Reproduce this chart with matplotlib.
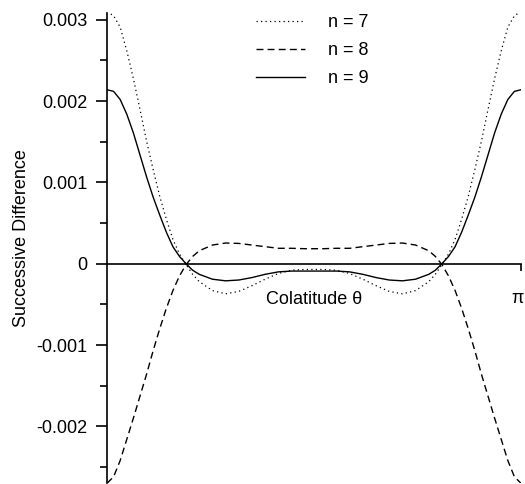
import numpy as np
import matplotlib
matplotlib.use("Agg")
import matplotlib.pyplot as plt
from matplotlib.ticker import FixedLocator
from matplotlib.transforms import ScaledTranslation

plt.rcParams['font.family'] = ['Liberation Sans', 'DejaVu Sans']

# Colatitude (radians)
theta = [0.0, 0.05, 0.1, 0.15, 0.2, 0.25, 0.3, 0.35, 0.4, 0.45, 0.5, 0.55, 0.6,
         0.65, 0.7, 0.8, 0.9, 1.0, 1.1, 1.2, 1.3, 1.4, 1.5, 1.5708,
         1.6416, 1.7416, 1.8416, 1.9416, 2.0416, 2.1416, 2.2416, 2.3416, 2.4416,
         2.4916, 2.5416, 2.5916, 2.6416, 2.6916, 2.7416, 2.7916, 2.8416, 2.8916,
         2.9416, 2.9916, 3.0416, 3.0916, 3.1416]

n7 = [0.00310, 0.00305, 0.00291, 0.00262, 0.00228, 0.00190, 0.00151, 0.00116,
      0.00083, 0.00055, 0.00030, 0.00012, -0.00001, -0.00013, -0.00022, -0.00033,
      -0.00037, -0.00034, -0.00027, -0.00019, -0.00012, -0.00008, -0.00007, -0.00007,
      -0.00007, -0.00008, -0.00012, -0.00019, -0.00027, -0.00034, -0.00037, -0.00033,
      -0.00022, -0.00013, -0.00001, 0.00012, 0.00030, 0.00055, 0.00083, 0.00116,
      0.00151, 0.00190, 0.00228, 0.00262, 0.00291, 0.00305, 0.00310]

n8 = [-0.00270, -0.00262, -0.00242, -0.00216, -0.00190, -0.00163, -0.00136, -0.00107,
      -0.00080, -0.00055, -0.00033, -0.00015, -0.00001, 0.00009, 0.00016, 0.00023,
      0.000255, 0.00025, 0.00023, 0.00021, 0.00019, 0.00019, 0.000185, 0.000185,
      0.000185, 0.00019, 0.00019, 0.00021, 0.00023, 0.00025, 0.000255, 0.00023,
      0.00016, 0.00009, -0.00001, -0.00015, -0.00033, -0.00055, -0.00080, -0.00107,
      -0.00136, -0.00163, -0.00190, -0.00216, -0.00242, -0.00262, -0.00270]

n9 = [0.00214, 0.00212, 0.00202, 0.00184, 0.00161, 0.00134, 0.00107, 0.00082,
      0.00060, 0.00039, 0.00021, 0.00009, 0.00000, -0.00008, -0.00013, -0.00019,
      -0.00021, -0.00020, -0.00017, -0.00013, -0.00010, -0.00009, -0.00009, -0.00009,
      -0.00009, -0.00009, -0.00010, -0.00013, -0.00017, -0.00020, -0.00021, -0.00019,
      -0.00013, -0.00008, 0.00000, 0.00009, 0.00021, 0.00039, 0.00060, 0.00082,
      0.00107, 0.00134, 0.00161, 0.00184, 0.00202, 0.00212, 0.00214]

labels = ['n = 7', 'n = 8', 'n = 9']
ytick_vals = [-0.002, -0.001, 0.0, 0.001, 0.002, 0.003]
ytick_labels = ['-0.002', '-0.001', '0', '0.001', '0.002', '0.003']
yminor_vals = [-0.0025, -0.0015, -0.0005, 0.0005, 0.0015, 0.0025]

fig = plt.figure(figsize=(5.25, 4.84), dpi=100)
ax = fig.add_axes([107/525, 1 - 483.3/484, 414/525, 470/484])

ax.plot(theta, n7, color='black', lw=0.9, linestyle=(0, (1, 2.6)), label=labels[0])
ax.plot(theta, n8, color='black', lw=1.0, linestyle=(0, (5, 3)), label=labels[1])
ax.plot(theta, n9, color='black', lw=1.0, linestyle='-', label=labels[2])

ax.set_xlim(0, np.pi)
ax.set_ylim(-0.0027, 0.00308)

for s in ['top', 'right']:
    ax.spines[s].set_visible(False)
ax.spines['bottom'].set_position(('data', 0))
ax.spines['bottom'].set_linewidth(1.2)
ax.spines['left'].set_linewidth(1.2)

ax.set_xticks([np.pi])
ax.set_xticklabels(['π'])
ax.tick_params(axis='x', direction='out', length=5, width=1.2, labelsize=13, pad=14)
for lab in ax.get_xticklabels():
    lab.set_transform(lab.get_transform() + ScaledTranslation(-3/100, 0, fig.dpi_scale_trans))

ax.yaxis.set_major_locator(FixedLocator(ytick_vals))
ax.set_yticklabels(ytick_labels)
ax.yaxis.set_minor_locator(FixedLocator(yminor_vals))
ax.tick_params(axis='y', which='major', direction='out', length=8, width=1.2,
               labelsize=13, pad=6)
ax.tick_params(axis='y', which='minor', direction='out', length=5, width=1.2)

ax.set_xlabel('Colatitude θ', fontsize=13)
ax.xaxis.set_label_coords(0.5, (483.3 - 299) / 470)
ax.xaxis.label.set_va('center')

ax.set_ylabel('Successive Difference', fontsize=13)
ax.yaxis.set_label_coords((22 - 107) / 414, (483.3 - 238) / 470)
ax.yaxis.label.set_va('center')

leg = ax.legend(loc='upper left', bbox_to_anchor=(240/525, 1 + 2/484),
                bbox_transform=fig.transFigure, frameon=False, fontsize=13,
                handlelength=2.7, handletextpad=1.3, labelspacing=0.6)

fig.savefig('out.png', dpi=100)
